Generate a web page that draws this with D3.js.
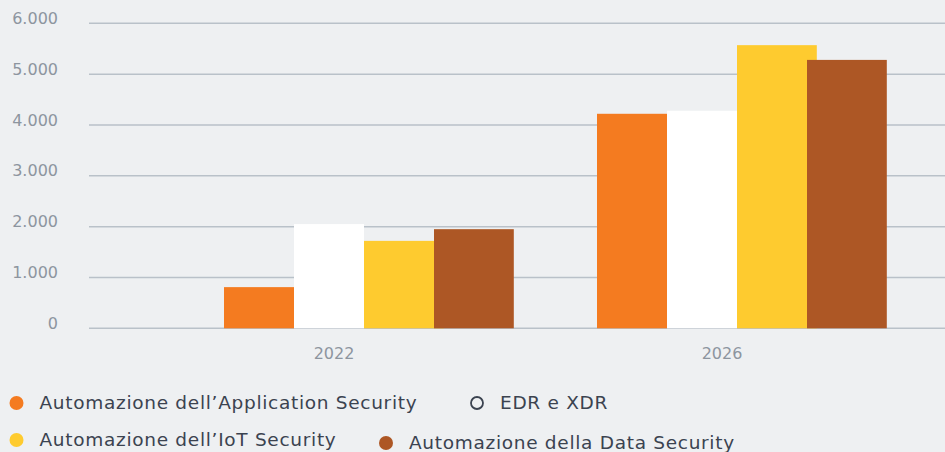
<!DOCTYPE html>
<html>
<head>
<meta charset="utf-8">
<script src="https://cdn.jsdelivr.net/npm/d3@7"></script>
<style>
    html, body { margin: 0; padding: 0; background: #eef0f2; }
    svg { display: block; font-family: "DejaVu Sans", sans-serif; }
    .grid line { stroke: #b9c1c9; stroke-width: 1.5; }
    .y-label, .x-label { fill: #8d959f; font-size: 16px; }
    .legend-text { fill: #3b4350; font-size: 18.5px; letter-spacing: 0.7px; }
</style>
</head>
<body>
<div id="chart"></div>
<script>
// Chart data
const years = ['2022', '2026'];
const seriesNames = [
    'Automazione dell\u2019Application Security',
    'EDR e XDR',
    'Automazione dell\u2019IoT Security',
    'Automazione della Data Security'
];
const appSecurity = [810, 4220];
const edrXdr = [2050, 4280];
const iotSecurity = [1720, 5570];
const dataSecurity = [1950, 5280];
const yTicks = [0, 1000, 2000, 3000, 4000, 5000, 6000];
const yTickLabels = ['0', '1.000', '2.000', '3.000', '4.000', '5.000', '6.000'];

const seriesValues = [appSecurity, edrXdr, iotSecurity, dataSecurity];
const colors = ['#f47b20', '#ffffff', '#fecb2f', '#ad5725'];

const width = 945;
const height = 452;

const svg = d3.select('#chart')
    .append('svg')
    .attr('width', width)
    .attr('height', height);

// Scales
const y = d3.scaleLinear()
    .domain([0, 6000])
    .range([328.3, 23.3]);

// bar groups and labels are not aligned the same way in the original
const xGroup = d3.scaleBand()
    .domain(years)
    .range([224, 970]);

const xLabel = d3.scaleBand()
    .domain(years)
    .range([140, 916]);

const xSeries = d3.scaleBand()
    .domain(d3.range(seriesNames.length))
    .range([0, 280]);

// Gridlines
svg.append('g')
    .attr('class', 'grid')
    .selectAll('line')
    .data(yTicks)
    .enter()
    .append('line')
    .attr('x1', 89)
    .attr('x2', width)
    .attr('y1', d => y(d))
    .attr('y2', d => y(d));

// Y axis labels
svg.append('g')
    .selectAll('text')
    .data(yTicks)
    .enter()
    .append('text')
    .attr('class', 'y-label')
    .attr('x', 58)
    .attr('y', d => y(d) - 5)
    .attr('dy', '0.35em')
    .attr('text-anchor', 'end')
    .text((d, i) => yTickLabels[i]);

// Bars (last two series are drawn a bit wider, overlapping like the original)
const barData = [];
seriesValues.forEach((vals, s) => {
    vals.forEach((v, i) => barData.push({ year: years[i], series: s, value: v }));
});

svg.append('g')
    .selectAll('rect')
    .data(barData)
    .enter()
    .append('rect')
    .attr('x', d => xGroup(d.year) + xSeries(d.series))
    .attr('y', d => y(d.value))
    .attr('width', d => xSeries.bandwidth() * (d.series >= 2 ? 1.14 : 1))
    .attr('height', d => y(0) - y(d.value))
    .attr('fill', d => colors[d.series]);

// X axis labels
svg.append('g')
    .selectAll('text')
    .data(years)
    .enter()
    .append('text')
    .attr('class', 'x-label')
    .attr('x', d => xLabel(d) + xLabel.bandwidth() / 2)
    .attr('y', 353)
    .attr('dy', '0.35em')
    .attr('text-anchor', 'middle')
    .text(d => d);

// Legend
const legendPos = [
    { x: 16.5, y: 403 },
    { x: 477, y: 403 },
    { x: 16.5, y: 440 },
    { x: 386, y: 443 }
];

const legend = svg.append('g')
    .selectAll('g')
    .data(seriesNames)
    .enter()
    .append('g')
    .attr('transform', (d, i) => `translate(${legendPos[i].x},${legendPos[i].y})`);

legend.append('circle')
    .attr('r', (d, i) => i === 1 ? 6 : 7)
    .attr('fill', (d, i) => i === 1 ? 'none' : colors[i])
    .attr('stroke', (d, i) => i === 1 ? '#3b4350' : 'none')
    .attr('stroke-width', 1.8);

legend.append('text')
    .attr('class', 'legend-text')
    .attr('x', 23)
    .attr('dy', '0.35em')
    .text(d => d);
</script>
</body>
</html>
